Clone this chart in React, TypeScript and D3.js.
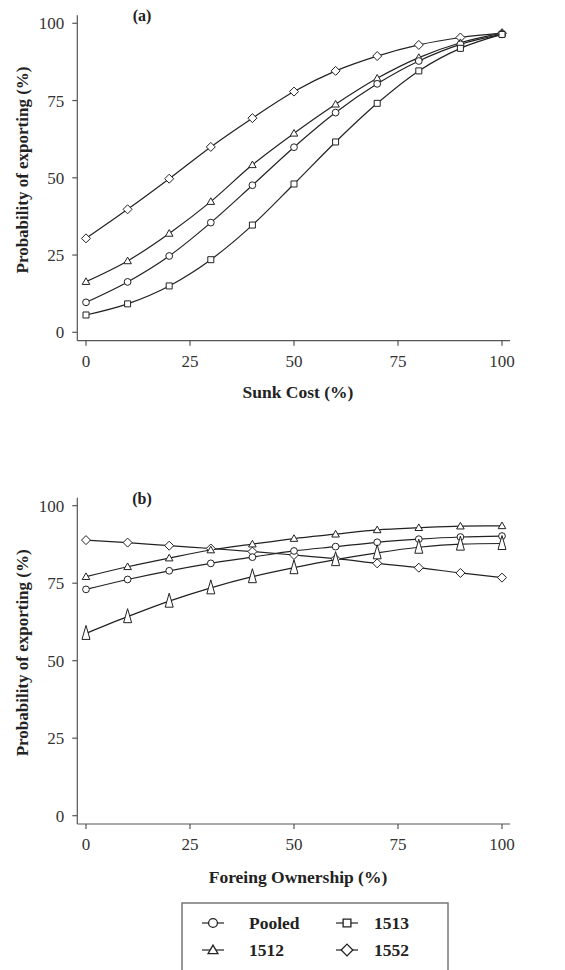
import React, { useEffect, useRef } from 'react';
import * as d3 from 'd3';

// x values shared by both panels
const xValues = [0, 10, 20, 30, 40, 50, 60, 70, 80, 90, 100];
const xTicks = [0, 25, 50, 75, 100];
const yTicks = [0, 25, 50, 75, 100];

// Panel (a) - Sunk Cost
const sunkPooled = [9.7, 16.3, 24.7, 35.5, 47.6, 59.9, 71.1, 80.4, 87.8, 93.2, 96.4];
const sunk1513 = [5.6, 9.2, 15.0, 23.5, 34.7, 48.0, 61.6, 74.1, 84.6, 91.9, 96.4];
const sunk1512 = [16.4, 23.1, 32.0, 42.3, 54.2, 64.4, 73.8, 82.2, 88.9, 93.7, 96.8];
const sunk1552 = [30.4, 39.8, 49.7, 60.0, 69.3, 77.9, 84.6, 89.4, 93.0, 95.4, 96.8];

// Panel (b) - Foreign ownership
const ownPooled = [73.0, 76.2, 79.0, 81.4, 83.4, 85.4, 86.8, 88.2, 89.2, 89.9, 90.2];
const own1513 = [58.8, 64.2, 69.2, 73.5, 77.1, 80.0, 82.6, 84.8, 86.6, 87.6, 87.8];
const own1512 = [77.1, 80.3, 83.1, 85.7, 87.6, 89.4, 90.8, 92.2, 92.9, 93.4, 93.5];
const own1552 = [88.9, 88.1, 87.1, 86.2, 85.2, 84.1, 82.9, 81.4, 80.0, 78.3, 76.8];

const legendItems = [
  { label: 'Pooled', shape: 'circle' },
  { label: '1513', shape: 'square' },
  { label: '1512', shape: 'triangle' },
  { label: '1552', shape: 'diamond' },
];

const FONT = '"Liberation Serif", "Times New Roman", serif';
const INK = '#222';
const AXIS = '#555';

const drawMarker = (g: any, shape: string, cx: number, cy: number, k = 1) => {
  const m = g.append('path')
    .attr('fill', '#fff')
    .attr('stroke', INK)
    .attr('stroke-width', 1)
    .attr('transform', `translate(${cx},${cy}) scale(${k})`);
  if (shape === 'circle') {
    m.attr('d', d3.symbol().type(d3.symbolCircle).size(36)());
  } else if (shape === 'square') {
    m.attr('d', 'M-3,-3H3V3H-3Z');
  } else if (shape === 'triangle') {
    m.attr('d', 'M0,-3.8L3.8,2.8H-3.8Z');
  } else if (shape === 'tall') {
    m.attr('d', 'M0,-8L4,6H-4Z');
  } else {
    m.attr('d', 'M0,-4.5L4.5,0L0,4.5L-4.5,0Z');
  }
};

const App = () => {
  const svgRef = useRef<SVGSVGElement>(null);

  useEffect(() => {
    const svg = d3.select(svgRef.current);
    svg.selectAll('*').remove();

    const panels = [
      {
        tag: '(a)', title: 'Sunk Cost (%)', top: 23.3, bottom: 332.3, axisY: 340.7, titleY: 398,
        series: [
          { values: sunk1552, shape: 'diamond' },
          { values: sunk1512, shape: 'triangle' },
          { values: sunkPooled, shape: 'circle' },
          { values: sunk1513, shape: 'square' },
        ],
      },
      {
        tag: '(b)', title: 'Foreing Ownership (%)', top: 505.7, bottom: 815.7, axisY: 824, titleY: 883,
        series: [
          { values: own1552, shape: 'diamond' },
          { values: own1512, shape: 'triangle' },
          { values: ownPooled, shape: 'circle' },
          { values: own1513, shape: 'tall' },
        ],
      },
    ];

    const x = d3.scaleLinear().domain([0, 100]).range([86, 502]);

    panels.forEach(p => {
      const y = d3.scaleLinear().domain([0, 100]).range([p.bottom, p.top]);
      const g = svg.append('g');
      const axisX = 77.3;

      // y axis
      g.append('line').attr('x1', axisX).attr('x2', axisX)
        .attr('y1', p.top - 8).attr('y2', p.axisY)
        .attr('stroke', AXIS).attr('stroke-width', 1.2);
      yTicks.forEach(t => {
        g.append('line').attr('x1', axisX - 5).attr('x2', axisX)
          .attr('y1', y(t)).attr('y2', y(t)).attr('stroke', AXIS).attr('stroke-width', 1.2);
        g.append('text').attr('x', axisX - 13).attr('y', y(t)).attr('dy', '0.35em')
          .attr('text-anchor', 'end').attr('font-family', FONT).attr('font-size', 17)
          .attr('fill', '#333').text(t);
      });

      // x axis
      g.append('line').attr('x1', axisX).attr('x2', 510)
        .attr('y1', p.axisY).attr('y2', p.axisY)
        .attr('stroke', AXIS).attr('stroke-width', 1.2);
      xTicks.forEach(t => {
        g.append('line').attr('x1', x(t)).attr('x2', x(t))
          .attr('y1', p.axisY).attr('y2', p.axisY + 5).attr('stroke', AXIS).attr('stroke-width', 1.2);
        g.append('text').attr('x', x(t)).attr('y', p.axisY + 20).attr('dy', '0.35em')
          .attr('text-anchor', 'middle').attr('font-family', FONT).attr('font-size', 17)
          .attr('fill', '#333').text(t);
      });

      // titles
      g.append('text').attr('x', 298).attr('y', p.titleY)
        .attr('text-anchor', 'middle').attr('font-family', FONT).attr('font-size', 17.5)
        .attr('font-weight', 'bold').attr('fill', INK).text(p.title);
      const mid = (p.top + p.axisY) / 2 - 12;
      g.append('text').attr('transform', `translate(28,${mid}) rotate(-90)`)
        .attr('text-anchor', 'middle').attr('font-family', FONT).attr('font-size', 17)
        .attr('font-weight', 'bold').attr('fill', INK).text('Probability of exporting (%)');
      g.append('text').attr('x', 142).attr('y', p.top - 2)
        .attr('text-anchor', 'middle').attr('font-family', FONT).attr('font-size', 16)
        .attr('font-weight', 'bold').attr('fill', INK).text(p.tag);

      const line = d3.line<number>()
        .x((_, i) => x(xValues[i]))
        .y(d => y(d))
        .curve(d3.curveMonotoneX);

      p.series.forEach(s => {
        g.append('path').datum(s.values).attr('d', line)
          .attr('fill', 'none').attr('stroke', INK).attr('stroke-width', 1.2);
      });
      p.series.forEach(s => {
        s.values.forEach((v, i) => drawMarker(g, s.shape, x(xValues[i]), y(v)));
      });
    });

    // legend
    const lg = svg.append('g');
    lg.append('rect').attr('x', 182).attr('y', 903).attr('width', 266).attr('height', 75)
      .attr('fill', 'none').attr('stroke', '#777').attr('stroke-width', 1.5);
    legendItems.forEach((item, i) => {
      const col = i % 2;
      const row = Math.floor(i / 2);
      const lx = col === 0 ? 202 : 336;
      const ly = row === 0 ? 923 : 950;
      lg.append('line').attr('x1', lx).attr('x2', lx + 22).attr('y1', ly).attr('y2', ly)
        .attr('stroke', INK).attr('stroke-width', 1.2);
      drawMarker(lg, item.shape, lx + 11, ly, 1.3);
      lg.append('text').attr('x', col === 0 ? 249 : 374).attr('y', ly).attr('dy', '0.35em')
        .attr('font-family', FONT).attr('font-size', 17.5).attr('font-weight', 'bold')
        .attr('fill', INK).text(item.label);
    });
  }, []);

  return (
    <svg ref={svgRef} width={565} height={970}
      style={{ position: 'absolute', top: 0, left: 0, background: '#fff' }} />
  );
};

export default App;
